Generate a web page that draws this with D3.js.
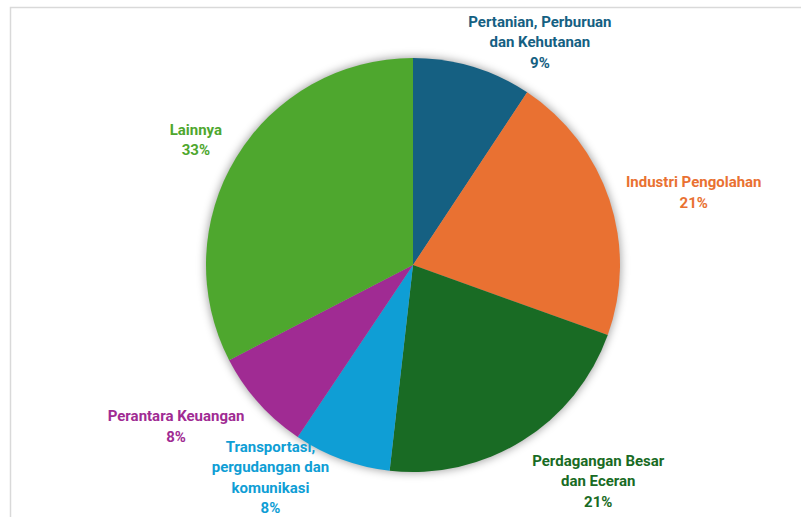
<!DOCTYPE html>
<html>
<head>
<meta charset="utf-8">
<script src="https://cdn.jsdelivr.net/npm/d3@7/dist/d3.min.js"></script>
<style>
  html, body { margin: 0; padding: 0; background: #ffffff; }
  svg { display: block; }
  text { font-family: "Roboto", "Liberation Sans", sans-serif; font-weight: bold; }
</style>
</head>
<body>
<svg id="chart" width="801" height="517"></svg>
<script>
// ---- data ----
const categories = [
  ["Pertanian, Perburuan", "dan Kehutanan"],
  ["Industri Pengolahan"],
  ["Perdagangan Besar", "dan Eceran"],
  ["Transportasi,", "pergudangan dan", "komunikasi"],
  ["Perantara Keuangan"],
  ["Lainnya"]
];
const values = [9.3, 21.2, 21.3, 7.6, 8.0, 32.6];
const colors = ["#156082", "#E97132", "#196B24", "#0F9ED5", "#A02B93", "#4EA72E"];
// label nudges relative to the arc-based anchor (layout only)
const labelNudge = [[52, 26], [34, 9], [48, -5], [-53, -32], [-43, -12], [5, 10]];

const W = 801, H = 517;
const cx = 413, cy = 265, R = 207, labelR = 260, lineH = 20.5;

const svg = d3.select("#chart");

// chart border
svg.append("rect")
  .attr("x", 10.5).attr("y", 7.5)
  .attr("width", W + 20).attr("height", H + 20)
  .attr("fill", "#ffffff")
  .attr("stroke", "#d9d9d9").attr("stroke-width", 1.5);

const defs = svg.append("defs");
const f = defs.append("filter").attr("id", "shadow")
  .attr("x", "-20%").attr("y", "-20%").attr("width", "140%").attr("height", "140%");
f.append("feGaussianBlur").attr("stdDeviation", 4);

const g = svg.append("g").attr("transform", `translate(${cx},${cy})`);

const pie = d3.pie().value(d => d).sort(null);
const arcs = pie(values);
const arc = d3.arc().innerRadius(0).outerRadius(R);
const labelArc = d3.arc().innerRadius(labelR).outerRadius(labelR);

// soft shadow
g.append("circle").attr("r", R + 1).attr("fill", "rgba(0,0,0,0.35)").attr("filter", "url(#shadow)");

g.selectAll("path.slice").data(arcs).enter().append("path")
  .attr("class", "slice")
  .attr("d", arc)
  .attr("fill", (d, i) => colors[i]);

const total = d3.sum(values);
const fmt = v => Math.round(v / total * 100) + "%";

arcs.forEach((d, i) => {
  const [x0, y0] = labelArc.centroid(d);
  const x = x0 + labelNudge[i][0], y = y0 + labelNudge[i][1];
  const lines = categories[i].concat([fmt(values[i])]);
  const t = g.append("text")
    .attr("text-anchor", "middle")
    .attr("fill", colors[i])
    .attr("font-size", 15);
  lines.forEach((ln, k) => {
    t.append("tspan")
      .attr("x", x)
      .attr("y", y + (k - (lines.length - 1) / 2) * lineH)
      .attr("dy", "0.35em")
      .text(ln);
  });
});
</script>
</body>
</html>
